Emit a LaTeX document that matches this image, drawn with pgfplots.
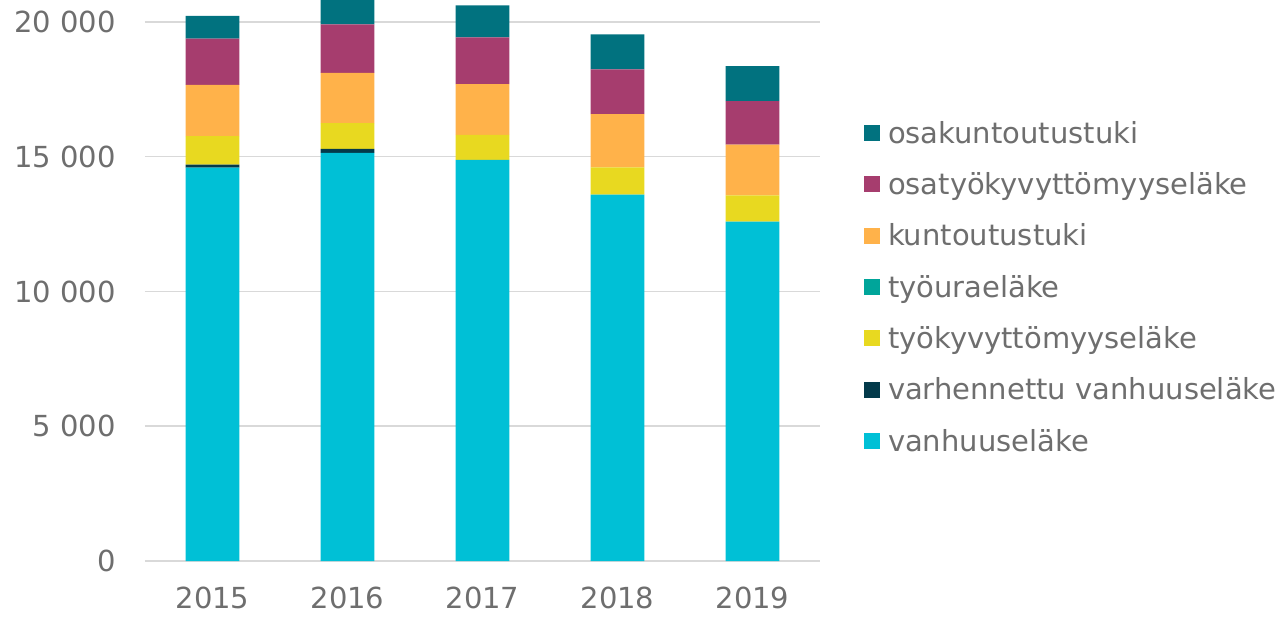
\documentclass[border=0pt]{standalone}
\usepackage{fontspec}
\setmainfont{DejaVu Sans}
\usepackage{pgfplots}
\pgfplotsset{compat=1.18}
\definecolor{cVan}{HTML}{00C0D6}
\definecolor{cVarh}{HTML}{033A4A}
\definecolor{cTyok}{HTML}{E8D920}
\definecolor{cTyoura}{HTML}{00A59A}
\definecolor{cKunt}{HTML}{FFB24A}
\definecolor{cOsatyo}{HTML}{A63D6E}
\definecolor{cOsakunt}{HTML}{01727F}
\definecolor{gridgray}{HTML}{D9D9D9}
\definecolor{labgray}{HTML}{6E6E6E}
\begin{document}
\begin{tikzpicture}
\useasboundingbox (-145pt,-55pt) rectangle (1136pt,561pt);
\begin{axis}[
  at={(0pt,0pt)}, anchor=south west,
  scale only axis, width=675pt, height=561pt,
  xmin=-0.5, xmax=4.5, ymin=0, ymax=20816,
  ybar stacked, bar width=53.6pt,
  xtick={0,1,2,3,4}, xticklabels={2015,2016,2017,2018,2019},
  ytick={0,5000,10000,15000,20000},
  yticklabels={0,5 000,10 000,15 000,20 000},
  ymajorgrids, major grid style={draw=gridgray, line width=1.5pt},
  axis line style={draw=none}, major tick length=0pt,
  tick label style={font=\fontsize{29}{34}\selectfont, text=labgray},
  yticklabel style={anchor=east, inner sep=0pt, xshift=-29pt},
  xticklabel style={anchor=north, inner sep=0pt, yshift=-26pt},
  reverse legend,
  legend style={draw=none, fill=none, at={(1.0652,0.4835)}, anchor=west,
    inner sep=0pt, outer sep=0pt, font=\fontsize{29}{34}\selectfont, text=labgray,
    row sep=24.3pt, nodes={inner sep=0pt, text height=21pt, text depth=6pt},
    /tikz/every odd column/.style={column sep=8pt}},
  legend cell align=left,
  legend image code/.code={\fill[#1] (0pt,-5.3pt) rectangle (16pt,10.7pt);},
]
\addplot[fill=cVan, draw=none] coordinates {(0,14600) (1,15140) (2,14880) (3,13590) (4,12590)};
\addlegendentry{vanhuuseläke}
\addplot[fill=cVarh, draw=none] coordinates {(0,110) (1,150) (2,0) (3,0) (4,0)};
\addlegendentry{varhennettu vanhuuseläke}
\addplot[fill=cTyok, draw=none] coordinates {(0,1055) (1,960) (2,930) (3,1020) (4,980)};
\addlegendentry{työkyvyttömyyseläke}
\addplot[fill=cTyoura, draw=none] coordinates {(0,0) (1,0) (2,0) (3,0) (4,0)};
\addlegendentry{työuraeläke}
\addplot[fill=cKunt, draw=none] coordinates {(0,1900) (1,1860) (2,1880) (3,1970) (4,1880)};
\addlegendentry{kuntoutustuki}
\addplot[fill=cOsatyo, draw=none] coordinates {(0,1720) (1,1800) (2,1740) (3,1660) (4,1610)};
\addlegendentry{osatyökyvyttömyyseläke}
\addplot[fill=cOsakunt, draw=none] coordinates {(0,840) (1,1100) (2,1190) (3,1300) (4,1300)};
\addlegendentry{osakuntoutustuki}
\end{axis}
\end{tikzpicture}
\end{document}
